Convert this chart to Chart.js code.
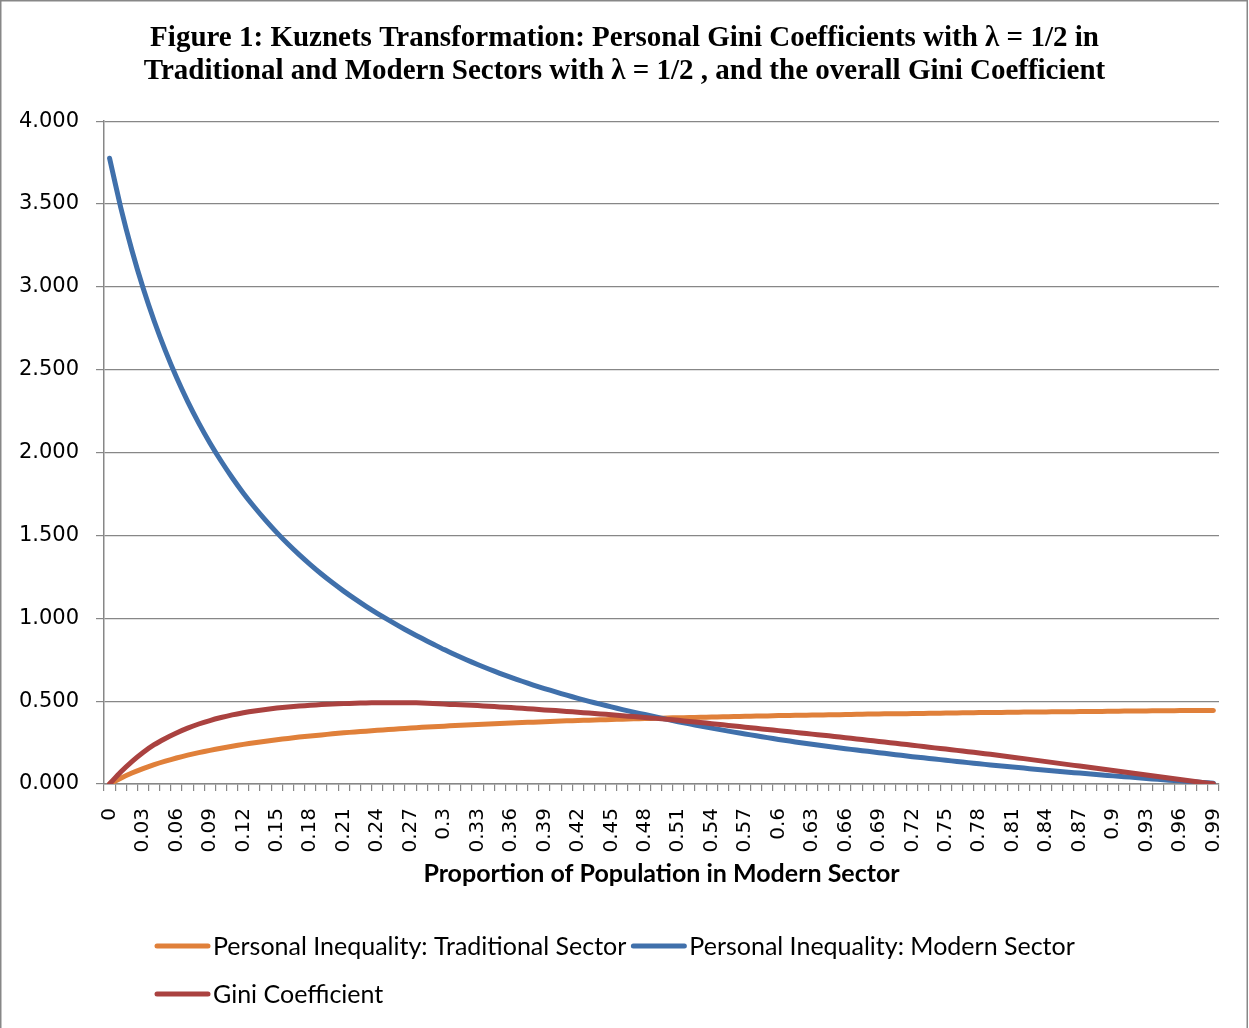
<!DOCTYPE html>
<html>
<head>
<meta charset="utf-8">
<title>Kuznets Transformation</title>
<script src="https://cdn.jsdelivr.net/npm/chart.js@4.4.1/dist/chart.umd.min.js"></script>
<style>
    html, body { margin: 0; padding: 0; background: #ffffff; }
    #wrap { width: 1249px; height: 1028px; position: relative; }
</style>
</head>
<body>
<div id="wrap"><canvas id="kuznetsChart" width="1249" height="1028"></canvas></div>
<script>
// Proportion of population in the modern sector (category axis)
const categories = [
    '0', '0.01', '0.02', '0.03', '0.04', '0.05', '0.06', '0.07', '0.08', '0.09',
    '0.1', '0.11', '0.12', '0.13', '0.14', '0.15', '0.16', '0.17', '0.18', '0.19',
    '0.2', '0.21', '0.22', '0.23', '0.24', '0.25', '0.26', '0.27', '0.28', '0.29',
    '0.3', '0.31', '0.32', '0.33', '0.34', '0.35', '0.36', '0.37', '0.38', '0.39',
    '0.4', '0.41', '0.42', '0.43', '0.44', '0.45', '0.46', '0.47', '0.48', '0.49',
    '0.5', '0.51', '0.52', '0.53', '0.54', '0.55', '0.56', '0.57', '0.58', '0.59',
    '0.6', '0.61', '0.62', '0.63', '0.64', '0.65', '0.66', '0.67', '0.68', '0.69',
    '0.7', '0.71', '0.72', '0.73', '0.74', '0.75', '0.76', '0.77', '0.78', '0.79',
    '0.8', '0.81', '0.82', '0.83', '0.84', '0.85', '0.86', '0.87', '0.88', '0.89',
    '0.9', '0.91', '0.92', '0.93', '0.94', '0.95', '0.96', '0.97', '0.98', '0.99'
];

// Personal inequality: traditional sector
const traditionalSector = [
    0.000, 0.035, 0.066, 0.093, 0.117, 0.138, 0.157, 0.174, 0.189, 0.203,
    0.216, 0.228, 0.239, 0.249, 0.258, 0.267, 0.275, 0.283, 0.290, 0.296,
    0.303, 0.309, 0.314, 0.319, 0.324, 0.329, 0.333, 0.338, 0.342, 0.346,
    0.349, 0.353, 0.356, 0.359, 0.362, 0.365, 0.368, 0.371, 0.373, 0.376,
    0.378, 0.381, 0.383, 0.385, 0.387, 0.389, 0.391, 0.393, 0.395, 0.396,
    0.398, 0.400, 0.401, 0.403, 0.404, 0.406, 0.407, 0.409, 0.410, 0.411,
    0.413, 0.414, 0.415, 0.416, 0.417, 0.418, 0.419, 0.421, 0.422, 0.423,
    0.424, 0.424, 0.425, 0.426, 0.427, 0.428, 0.429, 0.430, 0.431, 0.431,
    0.432, 0.433, 0.434, 0.434, 0.435, 0.436, 0.436, 0.437, 0.438, 0.438,
    0.439, 0.440, 0.440, 0.441, 0.442, 0.442, 0.443, 0.443, 0.444, 0.444
];

// Personal inequality: modern sector
const modernSector = [
    3.776, 3.479, 3.221, 2.994, 2.794, 2.615, 2.454, 2.309, 2.178, 2.058,
    1.949, 1.848, 1.755, 1.670, 1.591, 1.517, 1.448, 1.384, 1.324, 1.267,
    1.214, 1.164, 1.117, 1.072, 1.030, 0.990, 0.951, 0.914, 0.879, 0.845,
    0.811, 0.780, 0.750, 0.721, 0.694, 0.668, 0.643, 0.620, 0.597, 0.576,
    0.556, 0.536, 0.517, 0.499, 0.482, 0.465, 0.449, 0.434, 0.419, 0.404,
    0.390, 0.376, 0.363, 0.350, 0.337, 0.325, 0.313, 0.302, 0.291, 0.280,
    0.269, 0.259, 0.249, 0.240, 0.231, 0.222, 0.213, 0.205, 0.197, 0.189,
    0.181, 0.173, 0.165, 0.158, 0.151, 0.143, 0.136, 0.129, 0.122, 0.115,
    0.109, 0.102, 0.096, 0.089, 0.083, 0.077, 0.071, 0.066, 0.060, 0.054,
    0.049, 0.044, 0.039, 0.033, 0.028, 0.023, 0.019, 0.014, 0.009, 0.005
];

// Overall Gini coefficient
const giniCoefficient = [
    0.000, 0.072, 0.135, 0.190, 0.237, 0.275, 0.308, 0.337, 0.362, 0.383,
    0.401, 0.417, 0.430, 0.441, 0.450, 0.458, 0.465, 0.470, 0.475, 0.479,
    0.482, 0.485, 0.487, 0.489, 0.490, 0.490, 0.490, 0.490, 0.489, 0.486,
    0.482, 0.479, 0.476, 0.473, 0.469, 0.465, 0.461, 0.457, 0.452, 0.447,
    0.443, 0.438, 0.433, 0.428, 0.423, 0.418, 0.412, 0.407, 0.401, 0.396,
    0.390, 0.384, 0.377, 0.371, 0.364, 0.357, 0.350, 0.343, 0.336, 0.329,
    0.322, 0.315, 0.308, 0.301, 0.294, 0.287, 0.279, 0.272, 0.264, 0.257,
    0.249, 0.242, 0.234, 0.226, 0.218, 0.211, 0.203, 0.195, 0.187, 0.179,
    0.171, 0.162, 0.153, 0.144, 0.135, 0.126, 0.117, 0.108, 0.099, 0.090,
    0.081, 0.072, 0.063, 0.054, 0.045, 0.036, 0.027, 0.018, 0.009, 0.001
];

const seriesNames = [
    'Personal Inequality: Traditional Sector',
    'Personal Inequality: Modern Sector',
    'Gini Coefficient'
];
const seriesColors = ['#E0803A', '#4070AB', '#AA4240'];

const yMin = 0;
const yMax = 4;
const yStep = 0.5;
const xLabelEvery = 3;

const titleLines = [
    'Figure 1: Kuznets Transformation: Personal Gini Coefficients with \u03bb = 1/2 in',
    'Traditional and Modern Sectors with \u03bb = 1/2 , and the overall Gini Coefficient'
];
const xAxisTitle = 'Proportion of Population in Modern Sector';

const axisGrey = '#878787';

// Thin grey frame around the whole picture
const framePlugin = {
    id: 'frame',
    beforeDraw(chart) {
        const ctx = chart.ctx;
        ctx.save();
        ctx.fillStyle = '#ffffff';
        ctx.fillRect(0, 0, chart.width, chart.height);
        ctx.strokeStyle = axisGrey;
        ctx.lineWidth = 1.5;
        ctx.strokeRect(0.75, 0.75, chart.width - 2.5, chart.height + 20);
        ctx.restore();
    }
};

// Excel-style legend: rows left-aligned, short thick line before each label
const legendPlugin = {
    id: 'excelLegend',
    afterDraw(chart) {
        const ctx = chart.ctx;
        const rows = [[0, 1], [2]];
        const rowY = [946, 994];
        const startX = 156;
        const lineLen = 52;
        ctx.save();
        ctx.font = '25px Lato, "Open Sans", sans-serif';
        ctx.textBaseline = 'middle';
        ctx.textAlign = 'left';
        rows.forEach((row, r) => {
            let x = startX;
            row.forEach(idx => {
                const y = rowY[r];
                ctx.strokeStyle = seriesColors[idx];
                ctx.lineWidth = 5;
                ctx.lineCap = 'round';
                ctx.beginPath();
                ctx.moveTo(x + 1, y);
                ctx.lineTo(x + lineLen, y);
                ctx.stroke();
                ctx.fillStyle = '#000000';
                ctx.fillText(seriesNames[idx], x + lineLen + 5, y + 1);
                x += lineLen + 5 + ctx.measureText(seriesNames[idx]).width + 6;
            });
        });
        ctx.restore();
    }
};

const datasets = [traditionalSector, modernSector, giniCoefficient].map((values, i) => ({
    label: seriesNames[i],
    data: values,
    borderColor: seriesColors[i],
    backgroundColor: seriesColors[i],
    borderWidth: 5,
    pointRadius: 0,
    pointHoverRadius: 0,
    tension: 0.2,
    borderCapStyle: 'round',
    borderJoinStyle: 'round',
    fill: false,
    order: 3 - i
}));

Chart.defaults.font.family = '"DejaVu Sans", sans-serif';
Chart.defaults.color = '#000000';

new Chart(document.getElementById('kuznetsChart'), {
    type: 'line',
    data: { labels: categories, datasets: datasets },
    options: {
        responsive: false,
        animation: false,
        devicePixelRatio: 1,
        layout: { padding: { left: 0, right: 0, top: 0, bottom: 128 } },
        plugins: {
            legend: { display: false },
            tooltip: { enabled: false },
            title: {
                display: true,
                text: titleLines,
                color: '#000000',
                font: { family: '"Liberation Serif", "Times New Roman", serif', size: 29, weight: 'bold', lineHeight: 1.14 },
                padding: { top: 22, bottom: 33 }
            }
        },
        scales: {
            x: {
                type: 'category',
                offset: true,
                afterFit(scale) {
                    scale.height = 116;
                    scale.paddingLeft = 0;
                    scale.paddingRight = 30;
                },
                grid: {
                    offset: true,
                    drawOnChartArea: false,
                    drawTicks: true,
                    tickLength: 7,
                    color: axisGrey,
                    lineWidth: 1.2
                },
                border: { display: true, color: axisGrey, width: 1.5 },
                ticks: {
                    autoSkip: false,
                    maxRotation: 90,
                    minRotation: 90,
                    padding: 17,
                    color: '#000000',
                    font: { size: 20 },
                    callback: (value, index) => (index % xLabelEvery === 0 ? categories[index] : '')
                },
                title: {
                    display: true,
                    text: xAxisTitle,
                    color: '#000000',
                    font: { family: 'Lato, "Open Sans", sans-serif', size: 25, weight: 'bold', lineHeight: 1.2 },
                    padding: { top: 0, bottom: 11 }
                }
            },
            y: {
                min: yMin,
                max: yMax,
                afterFit(scale) { scale.width = 104; },
                grid: {
                    color: axisGrey,
                    lineWidth: 1.2,
                    drawTicks: true,
                    tickLength: 8
                },
                border: { display: true, color: axisGrey, width: 1.5 },
                ticks: {
                    stepSize: yStep,
                    padding: 17,
                    color: '#000000',
                    font: { size: 21 },
                    callback: value => Number(value).toFixed(3)
                }
            }
        }
    },
    plugins: [framePlugin, legendPlugin]
});
</script>
</body>
</html>
